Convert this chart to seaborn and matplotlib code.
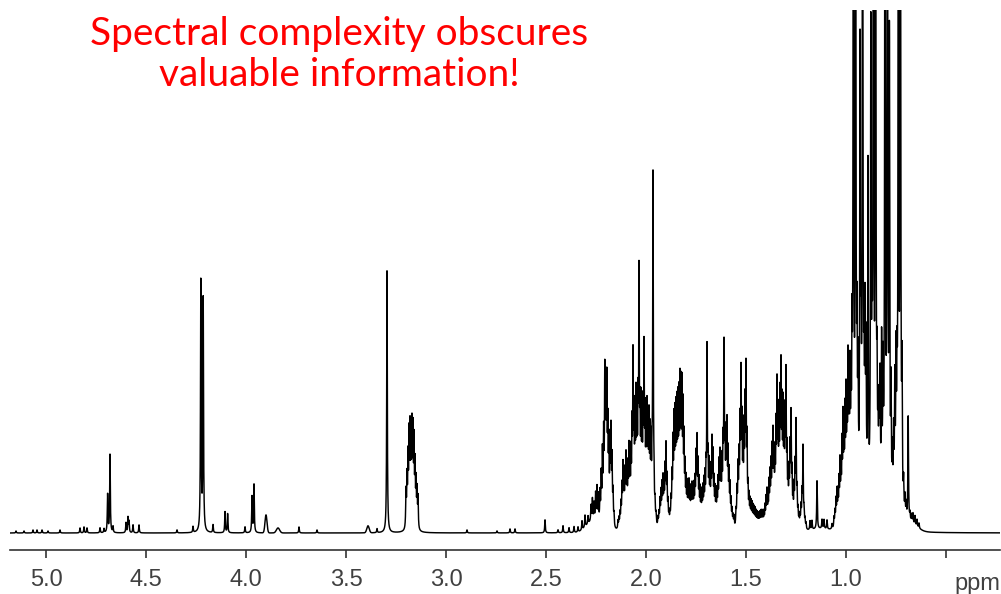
import numpy as np
import matplotlib
matplotlib.use("Agg")
import matplotlib.pyplot as plt
import seaborn as sns

# ---------------- data ----------------
# sharp resonances: chemical shift (ppm) and intensity (a.u.)
line_ppm = [
    5.15, 5.11, 5.065, 5.045, 5.02, 4.99, 4.93, 4.83, 4.81, 4.795, 4.73, 4.71,
    4.692, 4.680, 4.665, 4.60, 4.59, 4.585, 4.565, 4.535, 4.345, 4.265,
    4.226, 4.214, 4.165, 4.105, 4.092, 4.005, 3.970, 3.960, 3.735, 3.645,
    3.345, 3.295,
    3.200, 3.195, 3.190, 3.185, 3.180, 3.175, 3.170, 3.165, 3.160, 3.155, 3.150, 3.145, 3.140,
    2.895, 2.745, 2.680, 2.655,
    2.505, 2.44, 2.415, 2.385, 2.36, 2.34, 2.32, 2.305, 2.29, 2.275, 2.268, 2.26, 2.252,
    2.245, 2.238, 2.23, 2.224, 2.218, 2.212, 2.206, 2.201, 2.196, 2.191, 2.186, 2.180,
    2.175, 2.170, 2.165, 2.160,
    2.140, 2.135, 2.130, 2.125, 2.120, 2.115, 2.110, 2.105, 2.100, 2.095, 2.090, 2.085,
    2.080, 2.075, 2.070, 2.065, 2.060, 2.055, 2.050, 2.045, 2.040, 2.035, 2.030, 2.025,
    2.020, 2.015, 2.010, 2.005, 2.000, 1.995, 1.990, 1.985, 1.980, 1.975, 1.970, 1.965,
    1.960, 1.955, 1.950,
    1.940, 1.935, 1.930, 1.925, 1.920, 1.915, 1.910, 1.905, 1.900, 1.895, 1.890, 1.885,
    1.880, 1.875, 1.870, 1.865, 1.860, 1.855, 1.850, 1.845, 1.840, 1.835, 1.830, 1.825,
    1.820, 1.815, 1.810, 1.805, 1.800, 1.795, 1.790, 1.785, 1.780, 1.775, 1.770, 1.765,
    1.760, 1.755, 1.750, 1.745, 1.740, 1.735, 1.730, 1.725, 1.720, 1.715, 1.710, 1.705,
    1.700, 1.695, 1.690, 1.685, 1.680, 1.675, 1.670, 1.665, 1.660, 1.655, 1.650, 1.645,
    1.640, 1.635, 1.630, 1.625, 1.620, 1.615, 1.610, 1.605, 1.600, 1.595, 1.590, 1.585,
    1.580, 1.575, 1.570, 1.565, 1.560,
    1.550, 1.545, 1.540, 1.535, 1.530, 1.525, 1.520, 1.515, 1.510, 1.505, 1.500, 1.495,
    1.490, 1.485, 1.480, 1.475, 1.470, 1.465, 1.460, 1.455, 1.450, 1.445, 1.440, 1.435,
    1.430, 1.425, 1.420, 1.415, 1.410, 1.405, 1.400, 1.395, 1.390, 1.385, 1.380, 1.375,
    1.370, 1.365, 1.360, 1.355, 1.350, 1.345, 1.340, 1.335, 1.330, 1.325, 1.320, 1.315,
    1.310, 1.305, 1.300, 1.295, 1.290, 1.285, 1.280, 1.275, 1.270, 1.265, 1.260, 1.255,
    1.250, 1.245, 1.240, 1.235, 1.230, 1.225, 1.220, 1.215, 1.210, 1.205, 1.200,
    1.180, 1.170, 1.145, 1.120, 1.110, 1.095, 1.070,
    1.060, 1.055, 1.050, 1.045, 1.040, 1.035, 1.030, 1.025, 1.020, 1.015, 1.010, 1.005,
    1.000, 0.995, 0.990, 0.985, 0.980, 0.975, 0.970,
    0.963, 0.952, 0.945, 0.940, 0.930, 0.925, 0.917, 0.910, 0.905, 0.900, 0.890, 0.876,
    0.870, 0.863, 0.852, 0.845, 0.840, 0.835, 0.830, 0.822, 0.815, 0.805, 0.793, 0.783,
    0.775, 0.768, 0.762, 0.756, 0.750, 0.745, 0.738, 0.728, 0.720, 0.712, 0.705, 0.699,
    0.689, 0.680, 0.672, 0.665, 0.655, 0.645, 0.635,
]
line_int = [
    2, 2, 3, 3, 3, 2, 3, 5, 6, 5, 5, 4,
    38, 78, 6, 10, 15, 11, 8, 8, 3, 6,
    250, 232, 8, 21, 19, 6, 36, 48, 6, 3,
    4, 262,
    36, 47, 65, 85, 90, 79, 92, 88, 79, 58, 43, 36, 31,
    3, 2, 4, 4,
    13, 3, 7, 5, 6, 5, 9, 12, 8, 16, 22, 18, 28,
    35, 28, 30, 45, 62, 72, 125, 95, 112, 75, 66, 70,
    88, 62, 32, 12,
    8, 10, 14, 22, 38, 58, 40, 48, 64, 44, 52, 70,
    52, 62, 85, 155, 95, 92, 112, 98, 102, 235, 92, 105,
    90, 98, 160, 92, 86, 102, 90, 94, 80, 72, 50, 345,
    35, 18, 10,
    9, 13, 25, 32, 38, 44, 40, 52, 75, 44, 22, 12,
    12, 24, 45, 75, 94, 96, 100, 104, 107, 110, 124, 120,
    122, 104, 77, 52, 40, 37, 33, 40, 31, 34, 37, 33,
    36, 40, 64, 80, 56, 40, 33, 28, 31, 34, 40, 44,
    48, 172, 56, 54, 45, 48, 78, 65, 40, 33, 27, 31,
    40, 56, 65, 48, 56, 70, 170, 72, 80, 92, 65, 48,
    37, 24, 16, 11, 11,
    15, 34, 54, 62, 92, 140, 92, 62, 85, 108, 145, 77,
    33, 27, 24, 23, 22, 20, 19, 18, 16, 15, 14, 14,
    15, 16, 16, 15, 15, 20, 27, 34, 24, 40, 47, 55,
    67, 83, 63, 60, 86, 126, 95, 91, 110, 140, 102, 104,
    86, 95, 139, 63, 40, 47, 70, 104, 47, 24, 35, 55,
    100, 32, 16, 10, 12, 20, 32, 80, 16, 9, 6,
    9, 9, 48, 9, 9, 9, 5,
    10, 15, 25, 33, 30, 40, 57, 50, 70, 95, 80, 95,
    112, 100, 140, 115, 125, 110, 145,
    900, 900, 150, 120, 440, 150, 900, 120, 170, 140, 330, 455,
    150, 900, 900, 100, 55, 80, 110, 150, 120, 900, 900, 455,
    110, 50, 70, 120, 140, 110, 900, 900, 130, 30, 20, 15,
    105, 8, 8, 10, 9, 7, 5,
]
line_hwhm = 0.0018  # ppm

# broad components: centre (ppm), intensity (a.u.), width sigma (ppm)
broad_ppm = [3.90, 3.84, 3.39, 2.27, 2.20, 1.13, 0.85, 0.67]
broad_int = [18, 5, 7, 10, 25, 3, 20, 6]
broad_sigma = [0.005, 0.008, 0.006, 0.03, 0.012, 0.04, 0.06, 0.03]

tick_values = [5.0, 4.5, 4.0, 3.5, 3.0, 2.5, 2.0, 1.5, 1.0, 0.5]
tick_labels = ["5.0", "4.5", "4.0", "3.5", "3.0", "2.5", "2.0", "1.5", "1.0", ""]
title_lines = ["Spectral complexity obscures", "valuable information!"]

# ---------------- build spectrum ----------------
ppm = np.linspace(5.18, 0.23, 30000)
spec = np.zeros_like(ppm)
for c, h in zip(line_ppm, line_int):
    spec += h / (1.0 + ((ppm - c) / line_hwhm) ** 2)
for c, h, s in zip(broad_ppm, broad_int, broad_sigma):
    spec += h * np.exp(-0.5 * ((ppm - c) / s) ** 2)

# ---------------- plot ----------------
sns.set_style("white")
plt.rcParams["font.family"] = ["Liberation Sans", "DejaVu Sans"]

fig = plt.figure(figsize=(10.01, 5.94), dpi=100)
ax = fig.add_axes([10 / 1001, 44 / 594, 990 / 1001, 540 / 594])
sns.lineplot(x=ppm, y=spec, ax=ax, color="black", linewidth=1.05,
             sort=False, estimator=None)
ax.set_xlim(5.18, 0.23)
ax.set_ylim(-17, 523)
for s in ["left", "right", "top"]:
    ax.spines[s].set_visible(False)
ax.spines["bottom"].set_color("#333333")
ax.spines["bottom"].set_linewidth(1.2)
ax.set_yticks([])
ax.set_xticks(tick_values)
ax.set_xticklabels(tick_labels)
ax.tick_params(axis="x", bottom=True, direction="out", length=5.8, width=1.2,
               color="#333333", labelsize=17, labelcolor="#404040", pad=8)
ax.set_xlabel("")
ax.set_ylabel("")
fig.text(977 / 1001, 1 - 590 / 594, "ppm", ha="center", va="baseline",
         fontsize=17, color="#404040")

fig.text(339 / 1001, 1 - 45 / 594, title_lines[0], ha="center", va="baseline",
         color="#FF0000", fontsize=28, family=["Lato", "DejaVu Sans"])
fig.text(339 / 1001, 1 - 86 / 594, title_lines[1], ha="center", va="baseline",
         color="#FF0000", fontsize=28, family=["Lato", "DejaVu Sans"])

fig.savefig("out.png", dpi=100)
